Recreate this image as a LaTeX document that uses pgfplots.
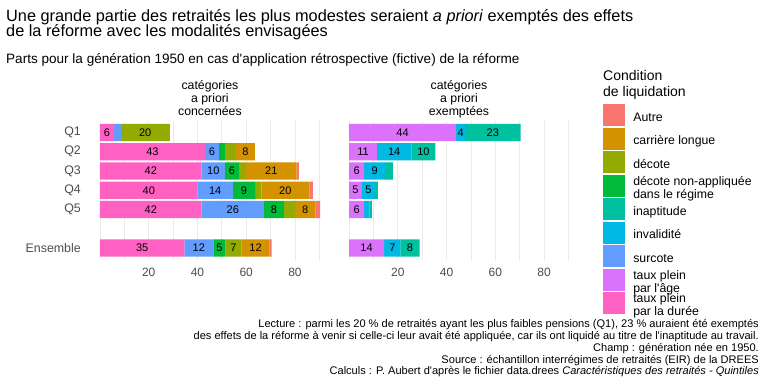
\documentclass[border=0pt]{standalone}
\usepackage{fontspec}
\setmainfont{Liberation Sans}[Ligatures=TeXOff]
\usepackage{pgfplots}
\pgfplotsset{compat=1.18}
\usepackage{pgfplotstable}

\definecolor{cAut}{HTML}{F8766D}
\definecolor{cCar}{HTML}{D39200}
\definecolor{cDec}{HTML}{93AA00}
\definecolor{cDna}{HTML}{00BA38}
\definecolor{cIna}{HTML}{00C19F}
\definecolor{cInv}{HTML}{00B9E3}
\definecolor{cSur}{HTML}{619CFF}
\definecolor{cAge}{HTML}{DB72FB}
\definecolor{cDur}{HTML}{FF61C3}
\definecolor{gridc}{HTML}{EBEBEB}
\definecolor{tickc}{HTML}{4D4D4D}

% catégories a priori concernées
\pgfplotstableread{
y dur sur dna dec car aut ldur lsur ldna ldec lcar
0 5.8 2.9 0 19.7 0.3 0 6 {} {} 20 {}
1 43.1 5.7 2.5 4.5 7.8 0 43 6 {} {} 8
2 41.7 9.6 5.7 2.9 20.8 0.9 42 10 6 {} 21
3 40.1 14.4 9.2 2.5 19.7 1.5 40 14 9 {} 20
4 41.7 25.6 8.2 4.5 8.5 1.8 42 26 8 {} 8
6 34.6 11.9 5.0 6.6 11.5 0.8 35 12 5 7 12
}\lefttab

% catégories a priori exemptées
\pgfplotstableread{
y age inv ina lage linv lina
0 43.9 3.7 22.8 44 4 23
1 11.4 14.2 9.8 11 14 10
2 6.2 8.6 3.2 6 9 {}
3 5.3 5.3 1.2 5 5 {}
4 6.2 2.2 1.0 6 {} {}
6 14.4 6.7 7.8 14 7 8
}\righttab

\newcommand\LE[1]{\smash{\raisebox{-4.5pt}{\fontsize{12.3}{12.4}\selectfont\renewcommand\arraystretch{1}\begin{tabular}[c]{@{}l@{}}#1\end{tabular}}}}

\pgfplotsset{
  panel/.style={
    width=241.8pt, height=138.5pt, scale only axis,
    xmin=-4.5, xmax=94.72, ymin=-0.6, ymax=6.6, y dir=reverse,
    enlargelimits=false,
    axis line style={draw=none}, major tick length=0pt, minor tick length=0pt,
    xtick={20,40,60,80}, minor xtick={0,10,30,50,70,90},
    xmajorgrids, xminorgrids,
    major grid style={color=gridc, line width=0.8pt},
    minor grid style={color=gridc, line width=0.8pt},
    /pgf/number format/assume math mode=true,
    xticklabel style={font=\fontsize{12}{14}\selectfont, text=tickc, inner sep=0pt, yshift=-8.6pt},
    yticklabel style={font=\fontsize{12.4}{14}\selectfont, text=tickc, inner sep=0pt, xshift=-8pt},
  },
  labs/.style={
    width=241.8pt, height=138.5pt, scale only axis,
    xmin=-4.5, xmax=94.72, ymin=-0.6, ymax=6.6, y dir=reverse,
    enlargelimits=false, hide axis, clip=false,
    nodes near coords, point meta=explicit symbolic,
    nodes near coords align={anchor=center},
    every node near coord/.append style={anchor=center, inner sep=0pt, font=\fontsize{11}{13}\selectfont, text=black},
  },
}

\begin{document}
\begin{tikzpicture}[x=1pt,y=1pt]
\useasboundingbox (0,0) rectangle (768,-384);
\fill[white] (0,0) rectangle (768,-384);

% ---- left panel
\begin{axis}[panel, at={(89pt,-121pt)}, anchor=north west,
  ytick={0,1,2,3,4,6}, yticklabels={Q1,Q2,Q3,Q4,Q5,Ensemble},
  xbar stacked, bar width=0.9]
\addplot[fill=cDur, draw=none] table[x=dur,y=y]{\lefttab};
\addplot[fill=cSur, draw=none] table[x=sur,y=y]{\lefttab};
\addplot[fill=cDna, draw=none] table[x=dna,y=y]{\lefttab};
\addplot[fill=cDec, draw=none] table[x=dec,y=y]{\lefttab};
\addplot[fill=cCar, draw=none] table[x=car,y=y]{\lefttab};
\addplot[fill=cAut, draw=none] table[x=aut,y=y]{\lefttab};
\end{axis}
\begin{axis}[labs, at={(89pt,-121pt)}, anchor=north west]
\addplot[draw=none, mark=none] table[x expr=\thisrow{dur}/2, y=y, meta=ldur]{\lefttab};
\addplot[draw=none, mark=none] table[x expr=\thisrow{dur}+\thisrow{sur}/2, y=y, meta=lsur]{\lefttab};
\addplot[draw=none, mark=none] table[x expr=\thisrow{dur}+\thisrow{sur}+\thisrow{dna}/2, y=y, meta=ldna]{\lefttab};
\addplot[draw=none, mark=none] table[x expr=\thisrow{dur}+\thisrow{sur}+\thisrow{dna}+\thisrow{dec}/2, y=y, meta=ldec]{\lefttab};
\addplot[draw=none, mark=none] table[x expr=\thisrow{dur}+\thisrow{sur}+\thisrow{dna}+\thisrow{dec}+\thisrow{car}/2, y=y, meta=lcar]{\lefttab};
\end{axis}

% ---- right panel
\begin{axis}[panel, at={(338.1pt,-121pt)}, anchor=north west,
  ytick=\empty, xbar stacked, bar width=0.9,
  legend image code/.code={\fill[#1] (0pt,-8.1pt) rectangle (21.7pt,13.6pt);},
  legend style={at={(axis description cs:1.0968,1.1206)}, anchor=north west,
    draw=none, fill=none, inner sep=0pt, outer sep=0pt,
    row sep=1.8pt, column sep=8.3pt,
    font=\fontsize{12.3}{12.4}\selectfont, nodes={inner sep=0pt}},
  legend cell align=left]
\addplot[fill=cAge, draw=none, forget plot] table[x=age,y=y]{\righttab};
\addplot[fill=cInv, draw=none, forget plot] table[x=inv,y=y]{\righttab};
\addplot[fill=cIna, draw=none, forget plot] table[x=ina,y=y]{\righttab};
\addlegendimage{fill=cAut, draw=none}\addlegendentry{\LE{Autre}}
\addlegendimage{fill=cCar, draw=none}\addlegendentry{\LE{carrière longue}}
\addlegendimage{fill=cDec, draw=none}\addlegendentry{\LE{décote}}
\addlegendimage{fill=cDna, draw=none}\addlegendentry{\LE{décote non-appliquée\\dans le régime}}
\addlegendimage{fill=cIna, draw=none}\addlegendentry{\LE{inaptitude}}
\addlegendimage{fill=cInv, draw=none}\addlegendentry{\LE{invalidité}}
\addlegendimage{fill=cSur, draw=none}\addlegendentry{\LE{surcote}}
\addlegendimage{fill=cAge, draw=none}\addlegendentry{\LE{taux plein\\par l'âge}}
\addlegendimage{fill=cDur, draw=none}\addlegendentry{\LE{taux plein\\par la durée}}
\end{axis}
\begin{axis}[labs, at={(338.1pt,-121pt)}, anchor=north west]
\addplot[draw=none, mark=none] table[x expr=\thisrow{age}/2, y=y, meta=lage]{\righttab};
\addplot[draw=none, mark=none] table[x expr=\thisrow{age}+\thisrow{inv}/2, y=y, meta=linv]{\righttab};
\addplot[draw=none, mark=none] table[x expr=\thisrow{age}+\thisrow{inv}+\thisrow{ina}/2, y=y, meta=lina]{\righttab};
\end{axis}

% ---- titles
\node[anchor=base west, inner sep=0pt, font=\fontsize{16.3}{19}\selectfont] at (6,-21) {Une grande partie des retraités les plus modestes seraient \textit{a priori} exemptés des effets};
\node[anchor=base west, inner sep=0pt, font=\fontsize{16.3}{19}\selectfont] at (6,-36.5) {de la réforme avec les modalités envisagées};
\node[anchor=base west, inner sep=0pt, font=\fontsize{13.55}{16}\selectfont] at (6,-63.3) {Parts pour la génération 1950 en cas d'application rétrospective (fictive) de la réforme};

% ---- strips
\foreach \cx/\w in {209.9/concernées, 459/exemptées}{
  \node[anchor=base, inner sep=0pt, font=\fontsize{12.3}{14}\selectfont] at (\cx,-89.3) {catégories};
  \node[anchor=base, inner sep=0pt, font=\fontsize{12.3}{14}\selectfont] at (\cx,-102.6) {a priori};
  \node[anchor=base, inner sep=0pt, font=\fontsize{12.3}{14}\selectfont] at (\cx,-115.9) {\w};
}

% ---- legend title
\node[anchor=base west, inner sep=0pt, font=\fontsize{14}{16}\selectfont] at (603,-80.7) {Condition};
\node[anchor=base west, inner sep=0pt, font=\fontsize{14}{16}\selectfont] at (603,-96) {de liquidation};

% ---- caption
\begin{scope}[every node/.style={anchor=base east, inner sep=0pt, font=\fontsize{11.05}{13}\selectfont}]
\node at (759,-327.3) {Lecture : parmi les 20 \% de retraités ayant les plus faibles pensions (Q1), 23 \% auraient été exemptés};
\node at (759,-339.2) {des effets de la réforme à venir si celle-ci leur avait été appliquée, car ils ont liquidé au titre de l'inaptitude au travail.};
\node at (759,-351.1) {Champ : génération née en 1950.};
\node at (759,-363.0) {Source : échantillon interrégimes de retraités (EIR) de la DREES};
\node at (759,-374.9) {Calculs : P. Aubert d'après le fichier data.drees \textit{Caractéristiques des retraités - Quintiles}};
\end{scope}
\end{tikzpicture}
\end{document}
